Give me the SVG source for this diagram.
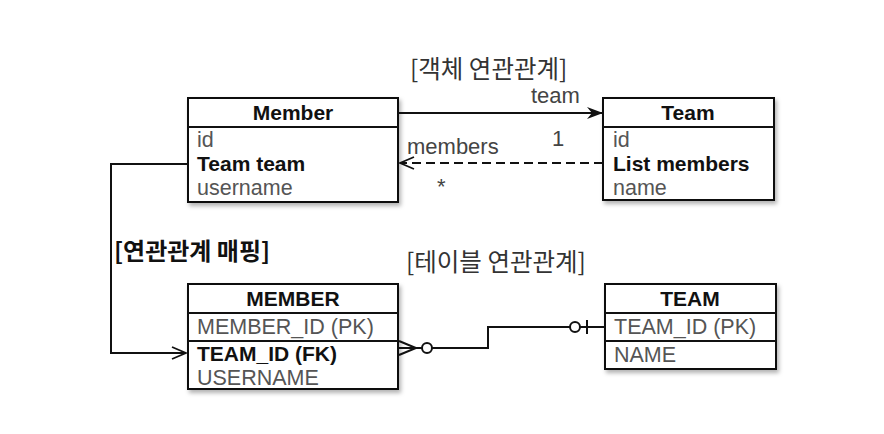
<svg xmlns="http://www.w3.org/2000/svg" width="884" height="434" viewBox="0 0 884 434">
<defs>
<filter id="sh" x="-10%" y="-10%" width="125%" height="130%">
<feDropShadow dx="2" dy="3" stdDeviation="2" flood-color="#000" flood-opacity="0.3"/>
</filter>
<marker id="stealth" viewBox="0 0 16 12" refX="16" refY="6" markerWidth="16" markerHeight="12" markerUnits="userSpaceOnUse" orient="auto">
<path d="M0,0 L16,6 L0,12 L5,6 Z" fill="#111"/>
</marker>
<marker id="open" viewBox="0 0 16 14" refX="15" refY="7" markerWidth="16" markerHeight="14" markerUnits="userSpaceOnUse" orient="auto">
<path d="M1,1 L15,7 L1,13" fill="none" stroke="#111" stroke-width="1.8"/>
</marker>
</defs>
<style>
.box{fill:#fff;stroke:#111;stroke-width:2}
.sep{stroke:#111;stroke-width:2}
.hdr{font-family:"Liberation Sans","Noto Sans",sans-serif;font-size:21px;font-weight:bold;fill:#111;text-anchor:middle}
.fld{font-family:"Liberation Sans","Noto Sans",sans-serif;font-size:21.5px;fill:#555}
.fb{font-family:"Liberation Sans","Noto Sans",sans-serif;font-size:21px;font-weight:bold;fill:#111}
.lbl{font-family:"Liberation Sans","Noto Sans",sans-serif;font-size:22px;fill:#444}
.ko{font-family:"Noto Sans CJK KR",sans-serif;font-size:24.5px;fill:#333}
.kob{font-family:"Noto Sans CJK KR",sans-serif;font-size:24px;font-weight:bold;fill:#111}
.ln{fill:none;stroke:#111;stroke-width:2}
</style>
<rect width="884" height="434" fill="#fff"/>
<text class="ko" x="410" y="78">[객체 연관관계]</text>
<text class="kob" x="114" y="260">[연관관계 매핑]</text>
<text class="ko" x="406" y="271">[테이블 연관관계]</text>

<g id="member">
<rect class="box" x="188" y="98" width="210" height="104" filter="url(#sh)"/>
<line class="sep" x1="188" y1="127" x2="398" y2="127"/>
<text class="hdr" x="293" y="120">Member</text>
<text class="fld" x="197" y="147">id</text>
<text class="fb" x="197" y="171">Team team</text>
<text class="fld" x="197" y="195">username</text>
</g>
<g id="team">
<rect class="box" x="603" y="98" width="171" height="102" filter="url(#sh)"/>
<line class="sep" x1="603" y1="127" x2="774" y2="127"/>
<text class="hdr" x="688" y="120">Team</text>
<text class="fld" x="613" y="147">id</text>
<text class="fb" x="613" y="171">List members</text>
<text class="fld" x="613" y="195">name</text>
</g>
<g id="MEMBER">
<rect class="box" x="188" y="284" width="210" height="105" filter="url(#sh)"/>
<line class="sep" x1="188" y1="313" x2="398" y2="313"/>
<line class="sep" x1="188" y1="341" x2="398" y2="341"/>
<text class="hdr" x="293" y="306">MEMBER</text>
<text class="fld" x="197" y="334">MEMBER_ID (PK)</text>
<text class="fb" x="197" y="361">TEAM_ID (FK)</text>
<text class="fld" x="197" y="385">USERNAME</text>
</g>
<g id="TEAM">
<rect class="box" x="605" y="284" width="171" height="85" filter="url(#sh)"/>
<line class="sep" x1="605" y1="313" x2="776" y2="313"/>
<line class="sep" x1="605" y1="341" x2="776" y2="341"/>
<text class="hdr" x="690" y="306">TEAM</text>
<text class="fld" x="614" y="334">TEAM_ID (PK)</text>
<text class="fld" x="614" y="362">NAME</text>
</g>

<g id="connectors">
<line class="ln" x1="398" y1="113" x2="603" y2="113" marker-end="url(#stealth)"/>
<text class="lbl" x="531" y="103">team</text>
<text class="lbl" x="552" y="146">1</text>
<line class="ln" x1="603" y1="163" x2="400" y2="163" stroke-dasharray="9,5" marker-end="url(#open)"/>
<text class="lbl" x="407" y="154">members</text>
<text class="lbl" x="437" y="194">*</text>
<path class="ln" d="M188,164 H111 V353 H186" marker-end="url(#open)"/>
<path class="ln" d="M399,341 L416,348 L399,355 M399,348 H422"/>
<circle cx="427" cy="348" r="5" fill="#fff" stroke="#111" stroke-width="2"/>
<path class="ln" d="M432,348 H488 V327 H570"/>
<circle cx="575" cy="327" r="5" fill="#fff" stroke="#111" stroke-width="2"/>
<path class="ln" d="M580,327 H605 M587,320 V334"/>
</g>
</svg>
